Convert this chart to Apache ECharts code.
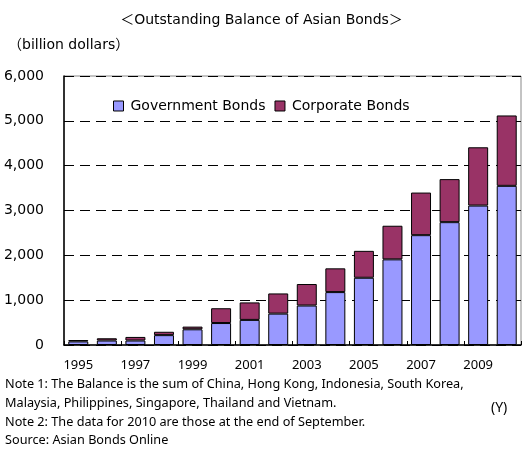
<!DOCTYPE html>
<html><head><meta charset="utf-8">
<script src="https://cdn.jsdelivr.net/npm/echarts@6/dist/echarts.min.js"></script>
<style>html,body{margin:0;padding:0;background:#fff}#c{width:523px;height:451px}</style>
</head><body><div id="c"></div>
<script>
const years = ['1995','1996','1997','1998','1999','2000','2001','2002','2003','2004','2005','2006','2007','2008','2009','2010'];
const governmentBonds = [80,100,100,220,350,490,560,700,880,1180,1500,1910,2450,2740,3110,3550];
const corporateBonds = [30,50,80,75,60,330,390,450,480,530,600,750,950,960,1300,1570];
const yTicks = [0,1000,2000,3000,4000,5000,6000];
const titleText = '＜Outstanding Balance of Asian Bonds＞';
const unitText = '（billion dollars）';
const notes = [
  'Note 1: The Balance is the sum of China, Hong Kong, Indonesia, South Korea,',
  'Malaysia, Philippines, Singapore, Thailand and Vietnam.',
  'Note 2: The data for 2010 are those at the end of September.',
  'Source: Asian Bonds Online'
];
const FONT = '"DejaVu Sans", "Noto Sans CJK JP", sans-serif';
const NFONT = '"Noto Sans", "Noto Sans CJK JP", sans-serif';
const chart = echarts.init(document.getElementById('c'), null, {renderer:'canvas'});
const noteY = [387, 406, 425, 443];
chart.setOption({
  animation:false,
  backgroundColor:'#fff',
  textStyle:{fontFamily:FONT},
  title:{text:titleText,left:'center',top:8,textStyle:{fontSize:14,fontWeight:'normal',color:'#000',fontFamily:FONT}},
  grid:{left:64,right:2,top:76,bottom:106,show:true,borderColor:'#888',borderWidth:1},
  legend:{left:108,top:94,itemWidth:10,itemHeight:10,itemGap:9,icon:'rect',
    textStyle:{fontSize:14,color:'#000',fontFamily:FONT,padding:[0,0,0,2]},
    data:[{name:'Government Bonds',itemStyle:{borderColor:'#000',borderWidth:1}},{name:'Corporate Bonds',itemStyle:{borderColor:'#000',borderWidth:1}}]},
  xAxis:{type:'category',data:years,
    axisLine:{lineStyle:{color:'#000',width:1.5}},
    axisTick:{show:true,inside:true,length:4,lineStyle:{color:'#000'}},
    axisLabel:{interval:1,fontSize:13,color:'#000',margin:14,fontFamily:NFONT}},
  yAxis:{type:'value',min:0,max:6000,interval:1000,
    axisLine:{show:true,lineStyle:{color:'#000',width:1.5}},
    axisTick:{show:false},
    splitLine:{lineStyle:{type:[10,6],color:'#000',width:1}},
    axisLabel:{fontSize:14,color:'#000',margin:20,fontFamily:FONT,formatter:v=>v.toLocaleString('en-US')}},
  series:[
    {name:'Government Bonds',type:'bar',stack:'t',data:governmentBonds,barWidth:'70%',
     itemStyle:{color:'#9999FF',borderColor:'#000',borderWidth:1}},
    {name:'Corporate Bonds',type:'bar',stack:'t',data:corporateBonds,barWidth:'70%',
     itemStyle:{color:'#993366',borderColor:'#000',borderWidth:1}}
  ],
  graphic:[
    {type:'text',left:8,top:38,style:{text:unitText,font:'14px '+FONT,fill:'#000'}},
    {type:'text',left:491,top:401,style:{text:'(Y)',font:'14px '+NFONT,fill:'#000'}}
  ].concat(notes.map((t,i)=>({type:'text',left:5,top:noteY[i]-9,style:{text:t,font:'12.7px '+NFONT,fill:'#000'}})))
});
</script></body></html>
